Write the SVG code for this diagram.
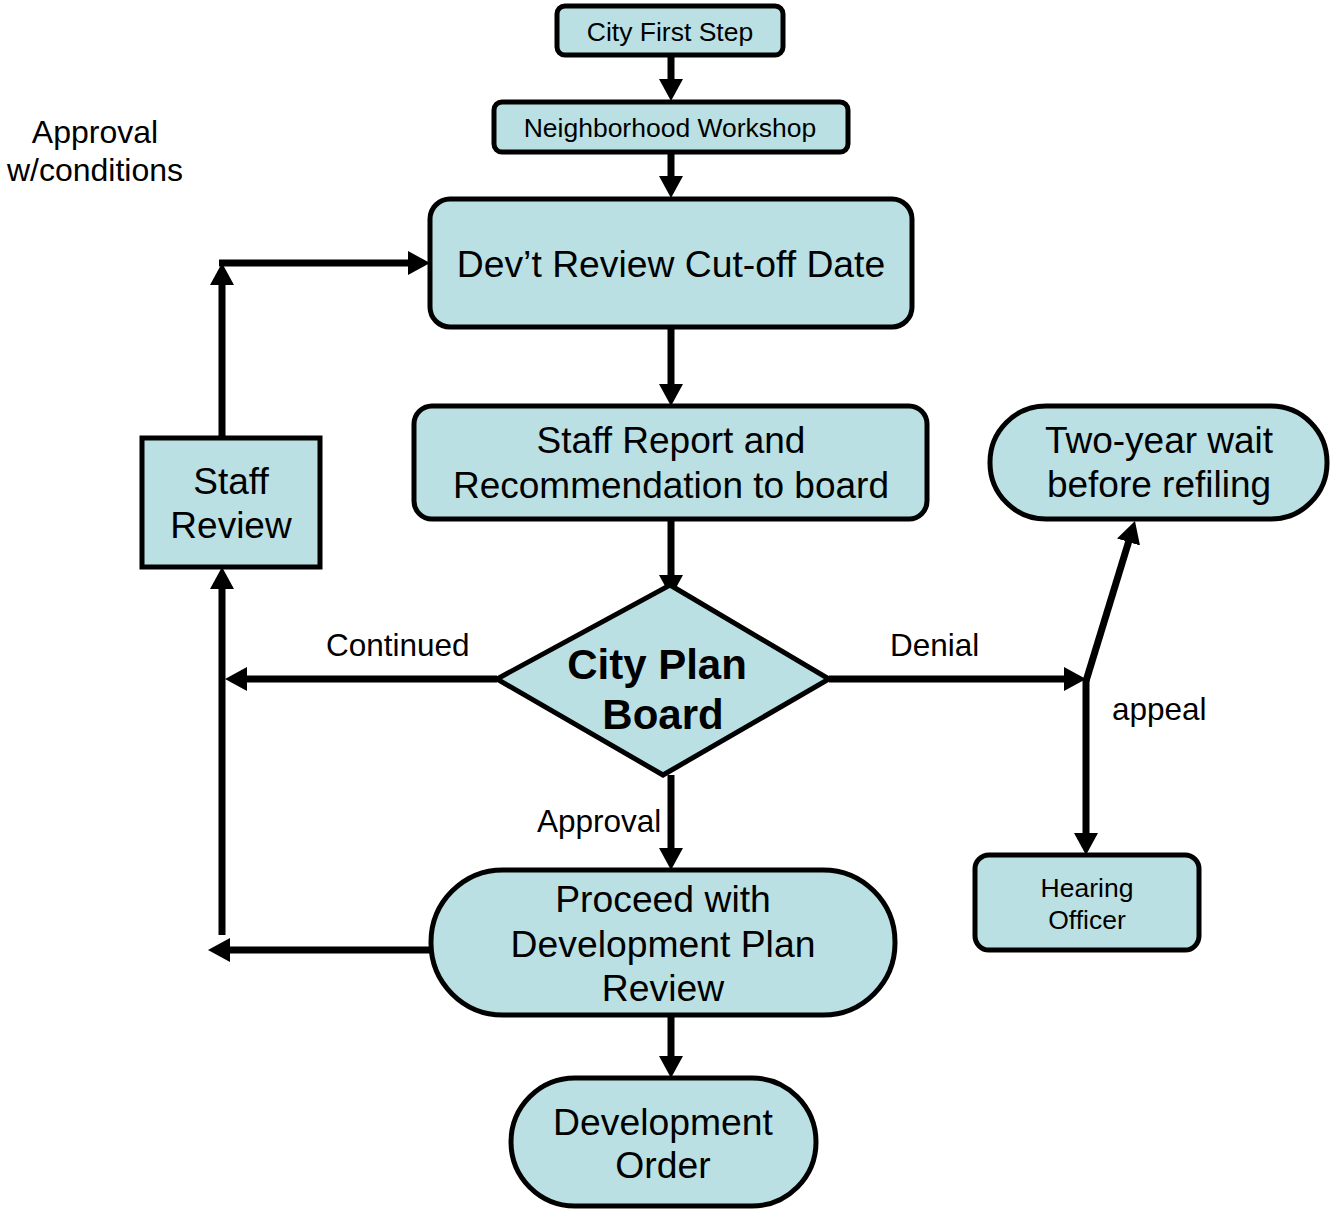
<svg xmlns="http://www.w3.org/2000/svg" width="1341" height="1209" viewBox="0 0 1341 1209">
<style>
.box{fill:#bae0e3;stroke:#000;stroke-width:5}
.t{font-family:"Liberation Sans",Arial,sans-serif;fill:#000;text-anchor:middle}
.lbl{font-family:"Liberation Sans",Arial,sans-serif;fill:#000;font-size:31.5px}
.c{fill:none;stroke:#000;stroke-width:7;marker-end:url(#ah)}
</style>
<defs>
<marker id="ah" viewBox="0 0 22 24" refX="4" refY="12" markerWidth="22" markerHeight="24" markerUnits="userSpaceOnUse" orient="auto">
<path d="M0,0 L22,12 L0,24 z" fill="#000"/>
</marker>
</defs>
<rect width="1341" height="1209" fill="#fff"/>
<g id="connectors">
<path class="c" d="M671,55 V83"/>
<path class="c" d="M671,152 V180"/>
<path class="c" d="M671,327 V388"/>
<path class="c" d="M671,519 V579"/>
<path class="c" d="M497,679 H243"/>
<path class="c" d="M222,935 V585"/>
<path class="c" d="M431,950 H226"/>
<path class="c" d="M222,438 V281"/>
<path class="c" d="M219,263 H412"/>
<path class="c" d="M829,679 H1068"/>
<path class="c" d="M1086,681 L1129.7,538.2"/>
<path class="c" d="M1086,679 V837"/>
<path class="c" d="M671,775 V852"/>
<path class="c" d="M671,1015 V1060"/>
</g>
<g id="city-first-step">
<rect class="box" x="557" y="6" width="226" height="49" rx="8"/>
<text class="t" x="670" y="41" font-size="26.5">City First Step</text>
</g>
<g id="neighborhood-workshop">
<rect class="box" x="494" y="102" width="354" height="50" rx="8"/>
<text class="t" x="670" y="137" font-size="26.5">Neighborhood Workshop</text>
</g>
<g id="devt-review">
<rect class="box" x="430" y="199" width="482" height="128" rx="20" stroke-width="6"/>
<text class="t" x="671" y="277" font-size="37.3">Dev’t Review Cut-off Date</text>
</g>
<g id="staff-report">
<rect class="box" x="414" y="406" width="513" height="113" rx="18"/>
<text class="t" x="671" y="453" font-size="37">Staff Report and</text>
<text class="t" x="671" y="498" font-size="37">Recommendation to board</text>
</g>
<g id="two-year-wait">
<rect class="box" x="990" y="406" width="337" height="113" rx="56"/>
<text class="t" x="1159" y="453" font-size="37">Two-year wait</text>
<text class="t" x="1159" y="497" font-size="37">before refiling</text>
</g>
<g id="staff-review">
<rect class="box" x="142" y="438" width="178" height="129"/>
<text class="t" x="231" y="494" font-size="37">Staff</text>
<text class="t" x="231" y="538" font-size="37">Review</text>
</g>
<g id="city-plan-board">
<polygon class="box" points="670,585 829,679 663,775 497,679"/>
<text class="t" x="657" y="679" font-size="42" font-weight="bold">City Plan</text>
<text class="t" x="663" y="729" font-size="42" font-weight="bold">Board</text>
</g>
<g id="hearing-officer">
<rect class="box" x="975" y="855" width="224" height="95" rx="14"/>
<text class="t" x="1087" y="897" font-size="26.5">Hearing</text>
<text class="t" x="1087" y="929" font-size="26.5">Officer</text>
</g>
<g id="proceed">
<rect class="box" x="431" y="870" width="464" height="145" rx="72"/>
<text class="t" x="663" y="912" font-size="37.3">Proceed with</text>
<text class="t" x="663" y="957" font-size="37.3">Development Plan</text>
<text class="t" x="663" y="1001" font-size="37.3">Review</text>
</g>
<g id="development-order">
<rect class="box" x="511" y="1078" width="305" height="128" rx="64"/>
<text class="t" x="663" y="1135" font-size="37.3">Development</text>
<text class="t" x="663" y="1178" font-size="37.3">Order</text>
</g>
<g id="labels">
<text class="t" x="95" y="143" font-size="32">Approval</text>
<text class="t" x="95" y="181" font-size="32">w/conditions</text>
<text class="lbl" x="326" y="656" font-size="32">Continued</text>
<text class="lbl" x="890" y="656">Denial</text>
<text class="lbl" x="1112" y="720">appeal</text>
<text class="lbl" x="537" y="832">Approval</text>
</g>
</svg>
